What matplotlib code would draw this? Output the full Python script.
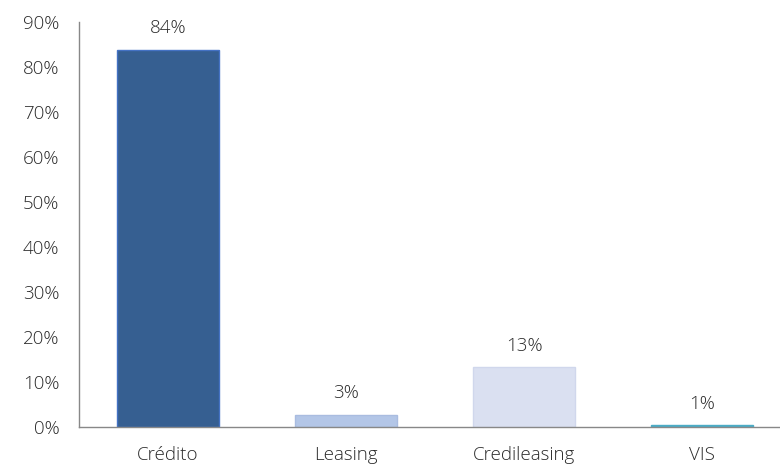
import matplotlib
matplotlib.use("Agg")
import matplotlib.pyplot as plt
from matplotlib.ticker import FixedLocator

categories = ["Crédito", "Leasing", "Credileasing", "VIS"]
values = [83.8, 2.7, 13.3, 0.4]
value_labels = ["84%", "3%", "13%", "1%"]
yticks = [0, 10, 20, 30, 40, 50, 60, 70, 80, 90]
ytick_labels = [f"{t}%" for t in yticks]

colors = ["#365F91", "#B3C6E7", "#DAE0F1", "#4BACC6"]
edges = ["#4472C4", "#A9BCE0", "#D0D7EC", "#4BACC6"]

plt.rcParams["font.family"] = ["Open Sans", "DejaVu Sans"]
FS = 13.5
TC = "#2a2a2a"

fig = plt.figure(figsize=(7.8, 4.66), dpi=100)
W, H = 780, 466
left, right, top, bottom = 79, 780, 22, 427
ax = fig.add_axes([left / W, (H - bottom) / H, (right - left) / W, (bottom - top) / H])

slot = 178.0
xmax = -0.5 + (right - left) / slot
x = list(range(len(categories)))
bars = ax.bar(x, values, width=0.575, color=colors, edgecolor=edges, linewidth=1.0, zorder=2)

ax.set_xlim(-0.5, xmax)
ax.set_ylim(0, 90)
ax.yaxis.set_major_locator(FixedLocator(yticks))
ax.set_yticklabels(ytick_labels, fontweight="light")
ax.set_xticks(x)
ax.set_xticklabels(categories, fontweight="light")

ax.tick_params(axis="y", length=0, pad=14, labelsize=FS, labelcolor=TC)
ax.tick_params(axis="x", length=0, pad=14, labelsize=FS, labelcolor=TC)

for s in ["top", "right"]:
    ax.spines[s].set_visible(False)
for s in ["left", "bottom"]:
    ax.spines[s].set_color("#888888")
    ax.spines[s].set_linewidth(1.0)

for b, lab in zip(bars, value_labels):
    ax.annotate(lab, (b.get_x() + b.get_width() / 2, b.get_height()),
                xytext=(0, 15.5), textcoords="offset points",
                ha="center", va="center", fontsize=FS, color=TC, fontweight="light")

fig.savefig("out.png", dpi=100)
